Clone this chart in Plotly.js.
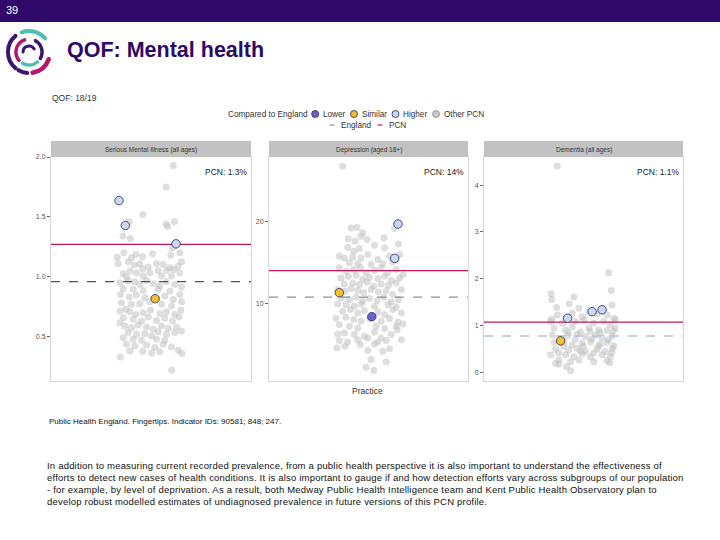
<!DOCTYPE html>
<html><head><meta charset="utf-8">
<script src="https://cdn.plot.ly/plotly-3.0.1.min.js"></script>
<style>
html,body{margin:0;padding:0;background:#fff;width:720px;height:540px;overflow:hidden;font-family:"Liberation Sans",Arial,sans-serif;}
#chart{position:absolute;left:0;top:0;width:720px;height:540px;}
#bar{position:absolute;left:0;top:0;width:720px;height:22px;background:#2f0a6b;z-index:2;}
#num{position:absolute;left:6px;top:4px;color:#fff;font-size:11px;z-index:3;}
#logo{position:absolute;left:4px;top:24px;z-index:2;}
#title{position:absolute;left:67px;top:40px;font-size:21.5px;font-weight:bold;color:#2d0a64;line-height:1;white-space:nowrap;z-index:2;}
#para{position:absolute;left:47px;top:460px;font-size:9.5px;letter-spacing:0.2px;line-height:12px;color:#111;white-space:nowrap;z-index:2;}
</style></head>
<body>
<div id="chart"></div>
<div id="bar"></div><div id="num">39</div>
<svg id="logo" width="52" height="56" viewBox="0 0 52 56" fill="none" stroke-linecap="round">
 <path d="M11.5,44.1 A21,21 0 0 1 11.5,11.9" stroke="#3a1670" stroke-width="4"/>
 <path d="M17.8,8.3 A21,21 0 0 1 41.1,14.5" stroke="#4dbfae" stroke-width="4"/>
 <path d="M44.7,35.2 A21,21 0 0 1 28.6,48.7" stroke="#b5176e" stroke-width="4.5"/>
 <path d="M23.2,48.9 A21,21 0 0 1 14.5,46.2" stroke="#3a1670" stroke-width="4"/>
 <path d="M15.0,36.4 A13,13 0 0 1 20.6,15.8" stroke="#b5176e" stroke-width="3.5"/>
 <path d="M31.5,16.7 A13,13 0 0 1 36.3,34.5" stroke="#3a1670" stroke-width="3.5"/>
 <path d="M33.4,38.0 A13,13 0 0 1 18.5,39.3" stroke="#4dbfae" stroke-width="3.5"/>
 <path d="M19,28 A6,6 0 0 1 30.2,25" stroke="#3a1670" stroke-width="3"/>
</svg>
<div id="title">QOF: Mental health</div>
<div id="para">In addition to measuring current recorded prevalence, from a public health perspective it is also important to understand the effectiveness of<br>efforts to detect new cases of health conditions. It is also important to gauge if and how detection efforts vary across subgroups of our population<br>- for example, by level of deprivation. As a result, both Medway Public Health Intelligence team and Kent Public Health Observatory plan to<br>develop robust modelled estimates of undiagnosed prevalence in future versions of this PCN profile.</div>
<script>
// ---------------- DATA ----------------
const panelTitles = ["Serious Mental Illness (all ages)", "Depression (aged 18+)", "Dementia (all ages)"];
const pcnLabels = ["PCN: 1.3%", "PCN: 14%", "PCN: 1.1%"];
const englandRates = [0.96, 10.75, 0.78];
const pcnRates = [1.27, 14.0, 1.075];
const yTickVals = [[0.5, 1.0, 1.5, 2.0], [10, 20], [0, 1, 2, 3, 4]];
const yTickText = [["0.5", "1.0", "1.5", "2.0"], ["10", "20"], ["0", "1", "2", "3", "4"]];
const legendCategories = ["Lower", "Similar", "Higher", "Other PCN"];

// PCN practices (jitter offset, prevalence %, comparison to England)
const smiPcnX = [-0.192, -0.154, 0.150, 0.025];
const smiPcnY = [1.636, 1.428, 1.275, 0.817];
const smiPcnStatus = ["Higher", "Higher", "Higher", "Similar"];
const depPcnX = [0.178, 0.158, -0.176, 0.020];
const depPcnY = [19.7, 15.5, 11.3, 8.37];
const depPcnStatus = ["Higher", "Higher", "Similar", "Lower"];
const demPcnX = [-0.096, 0.052, 0.112, -0.138];
const demPcnY = [1.16, 1.30, 1.34, 0.676];
const demPcnStatus = ["Higher", "Higher", "Higher", "Similar"];

// Practices in other PCNs
const smiOtherX = [0.134,0.091,-0.049,-0.132,0.091,0.100,0.140,-0.168,-0.124,0.128,
-0.203,-0.163,-0.117,-0.091,-0.051,0.009,0.119,0.173,
-0.197,-0.137,-0.101,-0.067,-0.017,0.033,0.073,0.113,0.163,0.183,
-0.167,-0.127,-0.087,-0.051,-0.007,0.043,0.093,0.137,0.173,
-0.147,-0.047,0.063,0.123,
-0.187,-0.137,-0.097,-0.067,-0.027,0.013,0.053,0.093,0.143,0.183,
-0.167,-0.107,-0.047,0.043,0.113,
-0.183,-0.131,-0.087,-0.037,-0.007,0.083,0.133,0.173,
-0.177,-0.117,-0.067,0.063,0.123,0.183,
-0.151,-0.187,-0.127,-0.091,-0.047,-0.003,0.053,0.093,0.143,0.179,
-0.167,-0.107,-0.057,-0.017,0.033,0.083,0.129,0.169,-0.187,
-0.157,-0.117,-0.077,-0.027,0.013,0.063,0.103,0.153,
-0.137,-0.087,-0.037,0.003,0.043,0.093,0.143,0.183,
-0.167,-0.107,-0.057,0.033,0.083,
-0.147,-0.097,-0.027,0.023,0.073,0.123,
-0.127,0.053,0.163,
-0.184,-0.050,0.004,0.185,0.124];
const smiOtherY = [1.93,1.75,1.52,1.46,1.44,1.42,1.46,1.34,1.32,1.24,
1.164,1.200,1.159,1.186,1.167,1.192,1.181,1.200,
1.109,1.125,1.098,1.109,1.081,1.109,1.103,1.075,1.089,1.125,
1.025,1.048,1.034,1.067,1.034,1.048,1.053,1.061,1.034,
0.998,1.006,1.006,1.006,
0.950,0.970,0.959,0.936,0.970,0.942,0.923,0.959,0.936,0.914,
0.903,0.895,0.886,0.895,0.881,
0.853,0.831,0.848,0.825,0.792,0.839,0.811,0.853,
0.784,0.770,0.775,0.770,0.756,0.792,
0.728,0.714,0.709,0.686,0.700,0.720,0.692,0.709,0.686,0.720,
0.659,0.645,0.631,0.664,0.636,0.653,0.631,0.664,0.617,
0.589,0.575,0.598,0.581,0.561,0.589,0.570,0.581,
0.534,0.520,0.525,0.506,0.542,0.520,0.534,0.548,
0.492,0.478,0.470,0.478,0.470,
0.436,0.423,0.431,0.409,0.436,0.414,
0.381,0.375,0.387,
0.330,0.378,0.364,0.360,0.220];

const depOtherX = [-0.156,
-0.105,-0.069,0.157,-0.035,-0.122,-0.081,-0.008,0.093,-0.045,
-0.176,-0.126,-0.089,-0.055,0.036,0.097,0.181,-0.146,-0.095,-0.045,-0.004,0.056,0.127,0.188,-0.115,-0.065,0.016,0.086,0.147,
-0.176,-0.136,-0.089,-0.049,-0.015,0.036,0.076,0.117,0.167,0.208,-0.166,-0.122,-0.075,-0.035,0.006,0.056,0.097,0.137,0.188,-0.146,-0.095,-0.055,-0.008,0.032,0.076,0.121,0.167,
-0.186,-0.142,-0.105,-0.065,-0.029,0.016,0.060,0.107,0.147,0.198,-0.166,-0.115,-0.075,-0.035,0.006,0.052,0.093,0.137,0.181,-0.186,-0.136,-0.085,-0.045,0.036,0.117,0.167,
-0.156,-0.109,-0.065,-0.025,0.056,0.097,0.147,0.198,-0.196,-0.136,-0.089,-0.045,0.006,0.076,0.127,0.177,-0.176,-0.115,-0.065,0.046,0.097,0.167,0.208,
-0.186,-0.146,-0.085,-0.025,0.036,0.076,0.137,0.173,-0.176,-0.126,-0.065,-0.004,0.056,0.107,0.198,-0.190,-0.142,-0.049,0.036,0.086,0.127,-0.004,
0.016,0.107,-0.015,0.032];
const depOtherY = [26.78,
19.23,19.31,19.15,18.62,17.89,17.60,17.80,18.01,18.21,
15.76,16.87,16.38,16.70,17.11,16.78,17.27,15.56,15.64,15.56,15.97,15.36,15.76,15.97,14.95,14.83,14.74,14.83,15.07,
14.34,13.93,14.13,14.42,13.72,14.01,14.34,13.72,14.13,13.52,13.11,13.32,13.44,12.91,13.19,13.03,13.32,12.79,13.11,12.38,12.50,12.30,12.62,12.09,12.38,12.21,12.50,
11.68,11.48,11.81,11.56,11.28,11.68,11.40,11.56,11.07,11.68,10.66,10.46,10.75,10.26,10.58,10.34,10.75,10.17,10.46,9.93,9.85,9.64,9.93,9.64,9.85,9.52,
9.03,9.24,8.83,9.11,8.95,8.62,9.24,8.83,8.22,8.30,8.01,7.81,8.13,7.81,8.13,7.73,7.40,7.20,6.99,7.20,6.91,7.20,7.48,
6.26,6.38,6.18,5.97,6.50,5.77,6.18,6.79,5.44,5.28,5.56,5.77,5.28,5.44,5.56,4.54,4.75,4.95,5.03,4.14,4.46,4.22,
3.12,2.83,2.18,1.77];

const demOtherX = [-0.158,0.152,0.168,-0.196,-0.192,-0.162,-0.086,-0.058,0.172,-0.028,-0.192,
0.032,-0.158,-0.068,-0.008,0.082,0.142,0.182,
-0.198,-0.128,-0.048,0.002,0.062,0.122,0.162,0.192,
-0.178,-0.108,-0.068,-0.018,0.032,0.092,0.142,0.192,
-0.188,-0.098,-0.038,0.012,0.072,0.112,0.172,
-0.178,-0.118,-0.068,-0.008,0.042,0.102,0.142,0.182,
-0.168,-0.088,-0.038,0.012,0.082,0.132,0.176,
-0.198,-0.108,-0.058,-0.008,0.042,0.112,0.162,
-0.148,-0.078,-0.028,0.062,0.142,
-0.168,-0.148,-0.102,-0.078,0.158,
-0.138,-0.050,0.050,0.150,-0.120,0.000,0.090,-0.020,0.060,0.170,-0.150,0.100,-0.090,0.040,0.180];
const demOtherY = [4.41,2.13,1.75,1.68,1.56,1.39,1.47,1.61,1.44,1.37,1.14,
1.30,1.23,1.27,1.19,1.25,1.23,1.16,
1.09,1.05,1.09,1.12,1.05,1.09,1.02,1.12,
0.95,0.91,0.98,0.87,0.95,0.91,0.90,0.95,
0.80,0.78,0.82,0.77,0.80,0.75,0.78,
0.64,0.66,0.59,0.63,0.66,0.61,0.64,0.57,
0.50,0.48,0.52,0.45,0.50,0.45,0.52,
0.38,0.38,0.34,0.40,0.33,0.38,0.34,
0.27,0.23,0.27,0.23,0.26,
0.20,0.18,0.13,0.04,0.21,
0.72,0.70,0.72,0.70,0.55,0.56,0.56,0.46,0.42,0.43,0.42,0.85,0.85,0.88,0.88];

// ---------------- STYLE / LAYOUT ----------------
const W = 720, H = 540;
const fx = v => v / W, fy = v => 1 - v / H;
const FONT = "Liberation Sans, Arial, sans-serif";
const statusColors = {"Lower": "#6b63cc", "Similar": "#f2c12e", "Higher": "#cad8f2", "Other PCN": "#c8c8c8"};
const englandColors = ["#3f5385", "#8e8e9c", "#b4c2d8"];
const pcnColor = "#c2185b";
const xDomainsPx = [[51, 251], [269, 468], [484, 683]];
const yRanges = [[0.13, 2.0], [0.5, 27.9], [-0.18, 4.6]];
const xRange = [-0.6, 0.6];

const pcnX = [smiPcnX, depPcnX, demPcnX];
const pcnY = [smiPcnY, depPcnY, demPcnY];
const pcnStatus = [smiPcnStatus, depPcnStatus, demPcnStatus];
const otherX = [smiOtherX, depOtherX, demOtherX];
const otherY = [smiOtherY, depOtherY, demOtherY];

const traces = [];
const layout = {
  width: W, height: H, margin: {l: 0, r: 0, t: 0, b: 0},
  paper_bgcolor: "rgba(0,0,0,0)", plot_bgcolor: "#fff",
  showlegend: false, font: {family: FONT, color: "#333"},
  annotations: [], shapes: []
};

for (let i = 0; i < 3; i++) {
  const s = i === 0 ? "" : String(i + 1);
  const xa = "x" + s, ya = "y" + s;
  traces.push({x: otherX[i], y: otherY[i], xaxis: xa, yaxis: ya, type: "scatter", mode: "markers",
    marker: {size: 7, color: "rgba(190,190,190,0.5)"}, hoverinfo: "skip"});
  traces.push({x: xRange, y: [englandRates[i], englandRates[i]], xaxis: xa, yaxis: ya, type: "scatter", mode: "lines",
    line: {color: englandColors[i], width: 1.3, dash: "dash"}, hoverinfo: "skip"});
  traces.push({x: xRange, y: [pcnRates[i], pcnRates[i]], xaxis: xa, yaxis: ya, type: "scatter", mode: "lines",
    line: {color: pcnColor, width: 1.3}, hoverinfo: "skip"});
  traces.push({x: pcnX[i], y: pcnY[i], xaxis: xa, yaxis: ya, type: "scatter", mode: "markers",
    marker: {size: 8.5, color: pcnStatus[i].map(c => statusColors[c]), line: {color: "#25255e", width: 0.8}}, hoverinfo: "skip"});

  layout["xaxis" + s] = {domain: [fx(xDomainsPx[i][0]), fx(xDomainsPx[i][1])], range: xRange, anchor: ya,
    showticklabels: false, ticks: "", showgrid: false, zeroline: false,
    showline: true, mirror: true, linecolor: "#d6d6d6", linewidth: 1};
  layout["yaxis" + s] = {domain: [fy(381), fy(157)], range: yRanges[i], anchor: xa,
    tickvals: yTickVals[i], ticktext: yTickText[i], ticks: "outside", ticklen: 3, tickcolor: "#666",
    tickfont: {size: 7, color: "#555", family: FONT}, showgrid: false, zeroline: false,
    showline: true, mirror: true, linecolor: "#d6d6d6", linewidth: 1};

  layout.shapes.push({type: "rect", xref: xa + " domain", yref: "paper", x0: 0, x1: 1, y0: fy(157), y1: fy(141),
    fillcolor: "#c2c2c2", line: {width: 0}});
  layout.annotations.push({xref: xa + " domain", yref: "paper", x: 0.5, y: fy(149.5), text: panelTitles[i],
    showarrow: false, xanchor: "center", yanchor: "middle", font: {size: 6.5, color: "#333"}});
  layout.annotations.push({xref: xa + " domain", yref: "paper", x: 0.99, y: fy(172), text: pcnLabels[i],
    showarrow: false, xanchor: "right", yanchor: "middle", font: {size: 8.5, color: "#222"}});
}

// texts
layout.annotations.push({xref: "paper", yref: "paper", x: fx(50), y: fy(98), text: "QOF: 18/19", showarrow: false,
  xanchor: "left", yanchor: "middle", font: {size: 8.5, color: "#333"}});
layout.annotations.push({xref: "paper", yref: "paper", x: fx(367), y: fy(391), text: "Practice", showarrow: false,
  xanchor: "center", yanchor: "middle", font: {size: 8.5, color: "#333"}});
layout.annotations.push({xref: "paper", yref: "paper", x: fx(47), y: fy(421), text: "Public Health England. Fingertips. Indicator IDs: 90581; 848; 247.",
  showarrow: false, xanchor: "left", yanchor: "middle", font: {size: 8, color: "#111"}});

// legend (drawn manually, positions from measured text widths)
const LEG_FS = 8.2;
const ctx = document.createElement("canvas").getContext("2d");
ctx.font = LEG_FS + "px 'Liberation Sans', Arial, sans-serif";
const tw = t => ctx.measureText(t).width;
const legY1 = 114, legY2 = 125;
let cur = 226;
layout.annotations.push({xref: "paper", yref: "paper", x: fx(cur), y: fy(legY1), text: "Compared to England",
  showarrow: false, xanchor: "left", yanchor: "middle", font: {size: LEG_FS, color: "#333"}});
cur += tw("Compared to England") + 6;
legendCategories.forEach((c) => {
  const mx = cur + 3.5;
  layout.shapes.push({type: "circle", xref: "paper", yref: "paper", xsizemode: "pixel", ysizemode: "pixel",
    xanchor: fx(mx), yanchor: fy(legY1), x0: -3.5, x1: 3.5, y0: -3.5, y1: 3.5,
    fillcolor: statusColors[c], line: {color: c === "Other PCN" ? "#8a8a8a" : "#25255e", width: 0.8}});
  layout.annotations.push({xref: "paper", yref: "paper", x: fx(mx + 6), y: fy(legY1), text: c,
    showarrow: false, xanchor: "left", yanchor: "middle", font: {size: LEG_FS, color: "#333"}});
  cur = mx + 6 + tw(c) + 7;
});
const legLines = [{name: "England", color: "#8e8e9c"}, {name: "PCN", color: pcnColor}];
const row2W = legLines.reduce((a, l) => a + 5 + 5 + tw(l.name), 0) + 8;
cur = 367 - row2W / 2;
legLines.forEach(l => {
  layout.shapes.push({type: "line", xref: "paper", yref: "paper", x0: fx(cur), x1: fx(cur + 5),
    y0: fy(legY2), y1: fy(legY2), line: {color: l.color, width: 1.2}});
  layout.annotations.push({xref: "paper", yref: "paper", x: fx(cur + 10), y: fy(legY2), text: l.name,
    showarrow: false, xanchor: "left", yanchor: "middle", font: {size: LEG_FS, color: "#333"}});
  cur += 10 + tw(l.name) + 8;
});

Plotly.newPlot("chart", traces, layout, {displayModeBar: false, staticPlot: true});
</script>
</body></html>
